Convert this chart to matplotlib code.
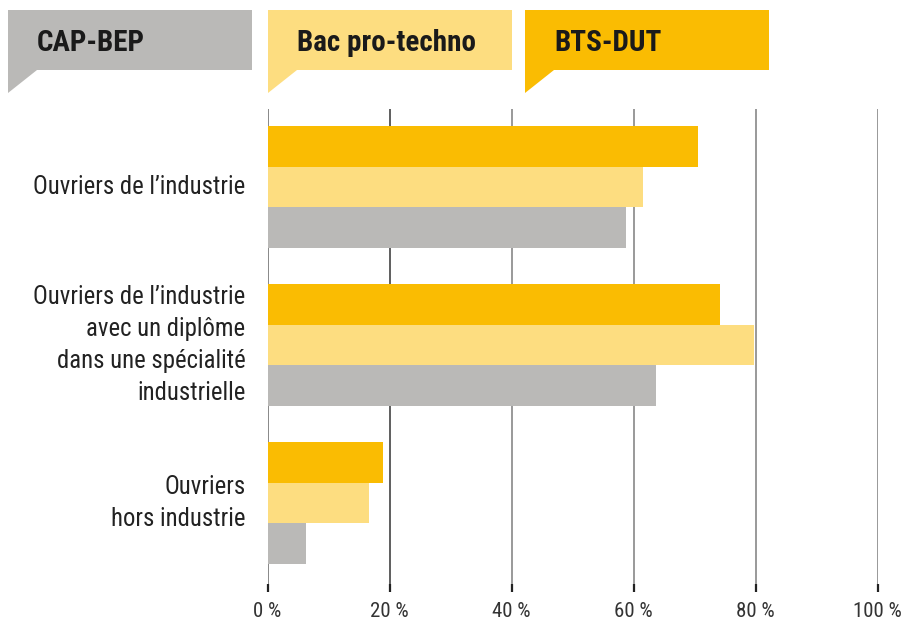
import matplotlib
matplotlib.use("Agg")
import matplotlib.pyplot as plt
from matplotlib.patches import Polygon
from matplotlib.transforms import Affine2D
import numpy as np

plt.rcParams['font.family'] = ['Roboto Condensed', 'Archivo Narrow', 'Liberation Sans', 'DejaVu Sans']

categories = ["Ouvriers de l\u2019industrie",
              "Ouvriers de l\u2019industrie\navec un diplôme\ndans une spécialité\nindustrielle",
              "Ouvriers\nhors industrie"]
series = ["BTS-DUT", "Bac pro-techno", "CAP-BEP"]
bts_dut = [70.6, 74.2, 18.9]
bac_pro = [61.6, 79.8, 16.6]
cap_bep = [58.8, 63.7, 6.3]
ticks = [0, 20, 40, 60, 80, 100]
tick_labels = ["0 %", "20 %", "40 %", "60 %", "80 %", "100 %"]

colors = {"BTS-DUT": "#FABC02", "Bac pro-techno": "#FDDD80", "CAP-BEP": "#BAB9B7"}
values = {"BTS-DUT": bts_dut, "Bac pro-techno": bac_pro, "CAP-BEP": cap_bep}

W, H = 909, 622
fig = plt.figure(figsize=(W / 100, H / 100), dpi=100)
left_px, right_px, top_px, bot_px = 267.5, 877.5, 109, 592
ax = fig.add_axes([left_px / W, 1 - bot_px / H, (right_px - left_px) / W, (bot_px - top_px) / H])

bh = 0.256
y = np.arange(len(categories))
offsets = [-bh, 0, bh]
for s, off in zip(series, offsets):
    ax.barh(y + off, values[s], height=bh, color=colors[s], zorder=3, linewidth=0)

for t in ticks:
    col = "#333333" if t == 20 else "#999999"
    if t == 0:
        col = "#888888"
    ax.axvline(t, color=col, lw=1.4 if t != 20 else 1.1, zorder=1)

ax.set_xlim(0, 100)
ax.set_ylim(2.563, -0.494)
ax.set_xticks(ticks)
ax.set_xticklabels(tick_labels, fontsize=15, color="#333333")
ax.tick_params(axis='x', direction='in', length=6, width=1.6, color="#222222", pad=7)
ax.set_yticks([])
for sp in ax.spines.values():
    sp.set_visible(False)

for yi, lab in zip(y, categories):
    ax.text(-0.036, yi, lab, transform=ax.get_yaxis_transform(), ha='right', va='center',
            fontsize=17.8, color="#222222", linespacing=1.42)

# legend speech boxes (pixel layout)
pix = Affine2D().scale(1 / W, -1 / H).translate(0, 1) + fig.transFigure
legend_x = {"CAP-BEP": 8, "Bac pro-techno": 268, "BTS-DUT": 525}
for s in ["CAP-BEP", "Bac pro-techno", "BTS-DUT"]:
    x0 = legend_x[s]
    x1 = x0 + 244
    poly = Polygon([(x0, 10), (x1, 10), (x1, 70), (x0 + 29, 70), (x0, 93)],
                   closed=True, facecolor=colors[s], edgecolor='none', transform=pix)
    fig.patches.append(poly)
    fig.text((x0 + 29) / W, 1 - 43 / H, s, fontsize=21, fontweight='bold',
             color="#1a1a1a", ha='left', va='center')

fig.savefig("out.png", dpi=100)
